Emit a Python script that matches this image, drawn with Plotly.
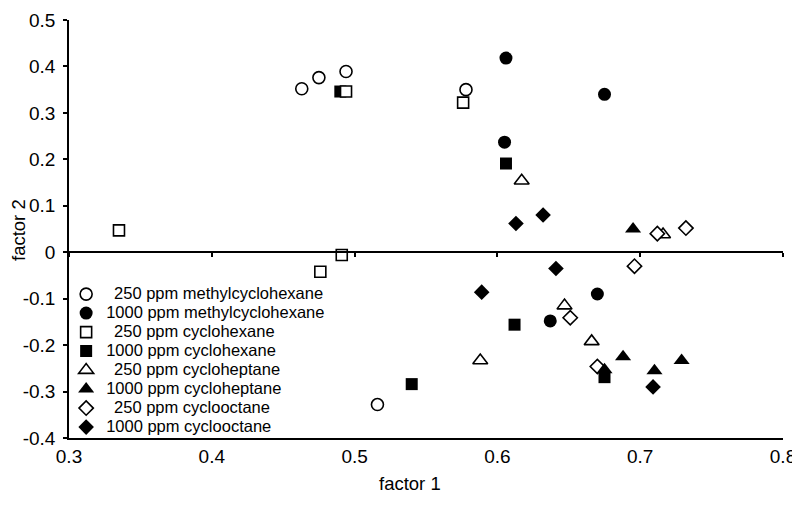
import plotly.graph_objects as go

# ---- data (factor 1, factor 2) ----
mch250_x = [0.463, 0.475, 0.494, 0.578, 0.516]
mch250_y = [0.352, 0.376, 0.389, 0.350, -0.328]
mch1000_x = [0.606, 0.675, 0.605, 0.670, 0.637]
mch1000_y = [0.418, 0.340, 0.237, -0.090, -0.148]
ch250_x = [0.494, 0.576, 0.335, 0.491, 0.476]
ch250_y = [0.346, 0.322, 0.047, -0.006, -0.042]
ch1000_x = [0.490, 0.606, 0.612, 0.675, 0.540]
ch1000_y = [0.346, 0.191, -0.156, -0.269, -0.284]
chp250_x = [0.617, 0.716, 0.647, 0.666, 0.588]
chp250_y = [0.154, 0.038, -0.115, -0.192, -0.233]
chp1000_x = [0.695, 0.688, 0.729, 0.710, 0.675]
chp1000_y = [0.050, -0.225, -0.233, -0.255, -0.253]
co250_x = [0.712, 0.732, 0.696, 0.651, 0.670]
co250_y = [0.040, 0.052, -0.030, -0.141, -0.246]
co1000_x = [0.613, 0.632, 0.641, 0.589, 0.709]
co1000_y = [0.062, 0.080, -0.035, -0.086, -0.290]

y_tickvals = [-0.4, -0.3, -0.2, -0.1, 0, 0.1, 0.2, 0.3, 0.4, 0.5]
y_ticktext = ["-0.4", "-0.3", "-0.2", "-0.1", "0", "0.1", "0.2", "0.3", "0.4", "0.5"]
x_tickvals = [0.3, 0.4, 0.5, 0.6, 0.7, 0.8]
x_ticktext = ["0.3", "0.4", "0.5", "0.6", "0.7", "0.8"]

SP = "\u00a0\u2009"


def lg(s):
    return '<span style="font-size:16.5px">' + s + "</span>"


series = [
    # name, x, y, symbol, filled, size, legendrank, xaxis
    (lg(SP + "250 ppm methylcyclohexane"), mch250_x, mch250_y, "circle", False, 12, 1, "x2"),
    (lg("1000 ppm methylcyclohexane"), mch1000_x, mch1000_y, "circle", True, 13, 2, "x"),
    (lg(SP + "250 ppm cycloheptane"), chp250_x, chp250_y, "triangle-up", False, 13, 5, "x"),
    (lg(SP + "250 ppm cyclooctane"), co250_x, co250_y, "diamond", False, 11, 7, "x"),
    (lg("1000 ppm cyclohexane"), ch1000_x, ch1000_y, "square", True, 12, 4, "x"),
    (lg(SP + "250 ppm cyclohexane"), ch250_x, ch250_y, "square", False, 11, 3, "x"),
    (lg("1000 ppm cycloheptane"), chp1000_x, chp1000_y, "triangle-up", True, 14, 6, "x"),
    (lg("1000 ppm cyclooctane"), co1000_x, co1000_y, "diamond", True, 12, 8, "x"),
]

FONT = "Liberation Sans, Arial, Helvetica, sans-serif"

fig = go.Figure()
for name, xs, ys, sym, filled, size, rank, xa in series:
    fig.add_trace(go.Scatter(
        x=xs, y=ys, mode="markers", name=name, legendrank=rank, xaxis=xa,
        marker=dict(symbol=sym, size=size,
                    color="black" if filled else "white",
                    line=dict(color="black", width=0 if filled else 1.6)),
    ))

# page body has an 8px margin, so the figure is 8px smaller and margins shifted
fig.update_layout(
    width=792, height=497,
    margin=dict(l=61, r=17, t=12, b=67, autoexpand=False),
    paper_bgcolor="white", plot_bgcolor="white",
    font=dict(family=FONT, size=19, color="black"),
    showlegend=True,
    legend=dict(x=-0.004, y=0.379, xanchor="left", yanchor="top",
                bgcolor="rgba(0,0,0,0)", font=dict(size=12),
                tracegroupgap=0, itemsizing="trace"),
    xaxis=dict(range=[0.3, 0.8], showgrid=False, zeroline=False,
               showline=True, linecolor="black", linewidth=1.5,
               ticks="", tickvals=x_tickvals, ticktext=x_ticktext,
               tickfont=dict(size=19)),
    xaxis2=dict(range=[0.3, 0.8], overlaying="x", anchor="free",
                position=0.4 / 0.9, side="bottom", showgrid=False,
                zeroline=False, showline=True, linecolor="black",
                linewidth=1.5, ticks="outside", ticklen=4, tickwidth=1.5,
                tickcolor="black", tickvals=x_tickvals, showticklabels=False),
    yaxis=dict(range=[-0.4, 0.5], showgrid=False, zeroline=False,
               showline=True, linecolor="black", linewidth=1.5,
               ticks="outside", ticklen=4, tickwidth=1.5, tickcolor="black",
               tickvals=y_tickvals, ticktext=y_ticktext,
               ticklabelstandoff=4, tickfont=dict(size=19)),
    annotations=[
        dict(text="factor 1", xref="paper", yref="paper",
             x=(410 - 69) / 714, y=(438 - 483) / 418,
             xanchor="center", yanchor="middle", showarrow=False,
             font=dict(size=18.5)),
        dict(text="factor 2", xref="paper", yref="paper",
             x=(18 - 69) / 714, y=(438 - 230) / 418, textangle=-90,
             xanchor="center", yanchor="middle", showarrow=False,
             font=dict(size=18.5)),
    ],
)

fig.write_html("out.html")
